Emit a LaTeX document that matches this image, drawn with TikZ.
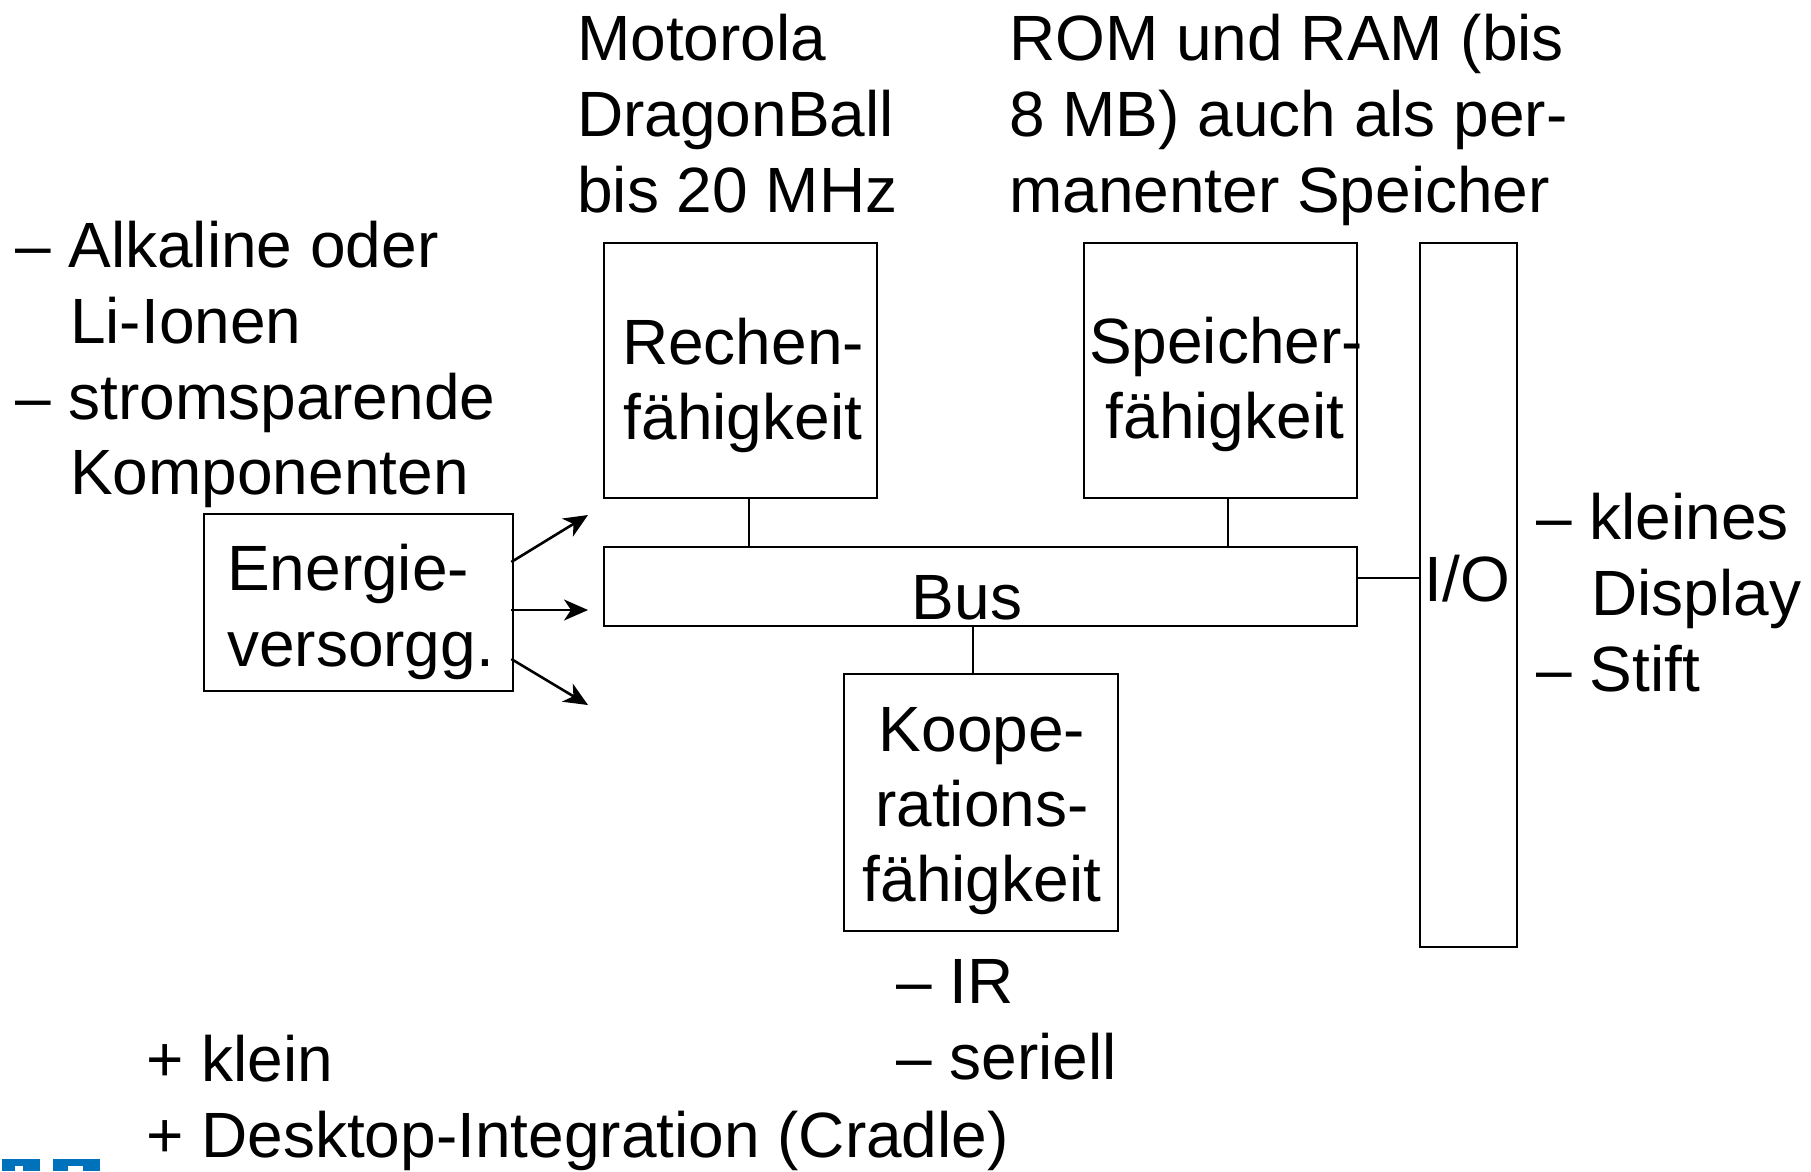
\documentclass[tikz,border=0pt]{standalone}
\usepackage{fontspec}
\setmainfont{Liberation Sans}
\usetikzlibrary{arrows.meta,calc}
\definecolor{logoblue}{RGB}{0,114,188}
\begin{document}
\begin{tikzpicture}[x=1pt,y=-1pt,
  txt/.style={inner sep=0pt,anchor=base west,font=\fontsize{64}{76}\selectfont},
  ctxt/.style={inner sep=0pt,anchor=base,font=\fontsize{64}{76}\selectfont},
  box/.style={draw,line width=2.6pt,inner sep=0pt,fill=none},
  conn/.style={line width=2.6pt},
  arr/.style={line width=2.6pt,-{Stealth[length=24pt,width=21pt,inset=7pt]}}]
\useasboundingbox (0,0) rectangle (1811,1171);
% boxes
\node[box,minimum width=273pt,minimum height=255pt] (R) at (740.5,370.5) {};
\node[box,minimum width=273pt,minimum height=255pt] (S) at (1220.5,370.5) {};
\node[box,minimum width=97pt,minimum height=704pt] (IO) at (1468.5,595) {};
\node[box,minimum width=753pt,minimum height=79pt] (Bus) at (980.5,586.5) {};
\node[box,minimum width=274pt,minimum height=257pt] (K) at (981,802.5) {};
\node[box,minimum width=309pt,minimum height=177pt] (E) at (358.5,602.5) {};
% box texts
\node[ctxt] (r1) at (743,364) {Rechen-};
\node[ctxt] (r2) at (743,439) {fähigkeit};
\node[ctxt] (s1) at (1226,363) {Speicher-};
\node[ctxt] (s2) at (1225,438) {fähigkeit};
\node[ctxt] (io) at (1467.5,601) {I/O};
\node[ctxt] (bus) at (967,619) {Bus};
\node[txt] (e1) at (227,590) {Energie-};
\node[txt] (e2) at (227,666) {versorgg.};
\node[ctxt] (k1) at (982,751) {Koope-};
\node[ctxt] (k2) at (982,826) {rations-};
\node[ctxt] (k3) at (982,901) {fähigkeit};
% connectors
\draw[conn] ([xshift=8.5pt]R.south) -- ([xshift=8.5pt]R.south |- Bus.north);
\draw[conn] ([xshift=7.5pt]S.south) -- ([xshift=7.5pt]S.south |- Bus.north);
\draw[conn] ([xshift=-8pt]K.north) -- ([xshift=-8pt]K.north |- Bus.south);
\draw[conn] ([yshift=8.5pt]Bus.east) -- ([yshift=8.5pt]Bus.east -| IO.west);
% arrows
\coordinate (a1) at (588,515);
\coordinate (a2) at (588,610);
\coordinate (a3) at (588,705);
\draw[arr] ([xshift=-3pt,yshift=40.5pt]E.east) -- (a1);
\draw[arr] ([xshift=-3pt,yshift=-7.5pt]E.east) -- (a2);
\draw[arr] ([xshift=-3pt,yshift=-56.5pt]E.east) -- (a3);
% annotations
\node[txt] (l1) at (15,267) {– Alkaline oder};
\node[txt] (l2) at (70,343) {Li-Ionen};
\node[txt] (l3) at (15,419) {– stromsparende};
\node[txt] (l4) at (70,494) {Komponenten};
\node[txt] (m1) at (577,60) {Motorola};
\node[txt] (m2) at (577,136) {DragonBall};
\node[txt] (m3) at (577,212) {bis 20 MHz};
\node[txt] (p1) at (1009,60) {ROM und RAM (bis};
\node[txt] (p2) at (1009,136) {8 MB) auch als per-};
\node[txt] (p3) at (1009,212) {manenter Speicher};
\node[txt] (d1) at (1536,539) {– kleines};
\node[txt] (d2) at (1591,615) {Display};
\node[txt] (d3) at (1536,691) {– Stift};
\node[txt] (c1) at (896,1003) {– IR};
\node[txt] (c2) at (896,1079) {– seriell};
\node[txt] (b1) at (146,1081) {+ klein};
\node[txt] (b2) at (146,1157) {+ Desktop-Integration (Cradle)};
% logo fragment
\fill[logoblue] (2,1159) rectangle (40,1171);
\fill[logoblue] (53,1159) rectangle (100,1171);
\fill[white] (15,1166) rectangle (23,1171);
\fill[white] (68,1166) rectangle (83,1171);
\end{tikzpicture}
\end{document}
